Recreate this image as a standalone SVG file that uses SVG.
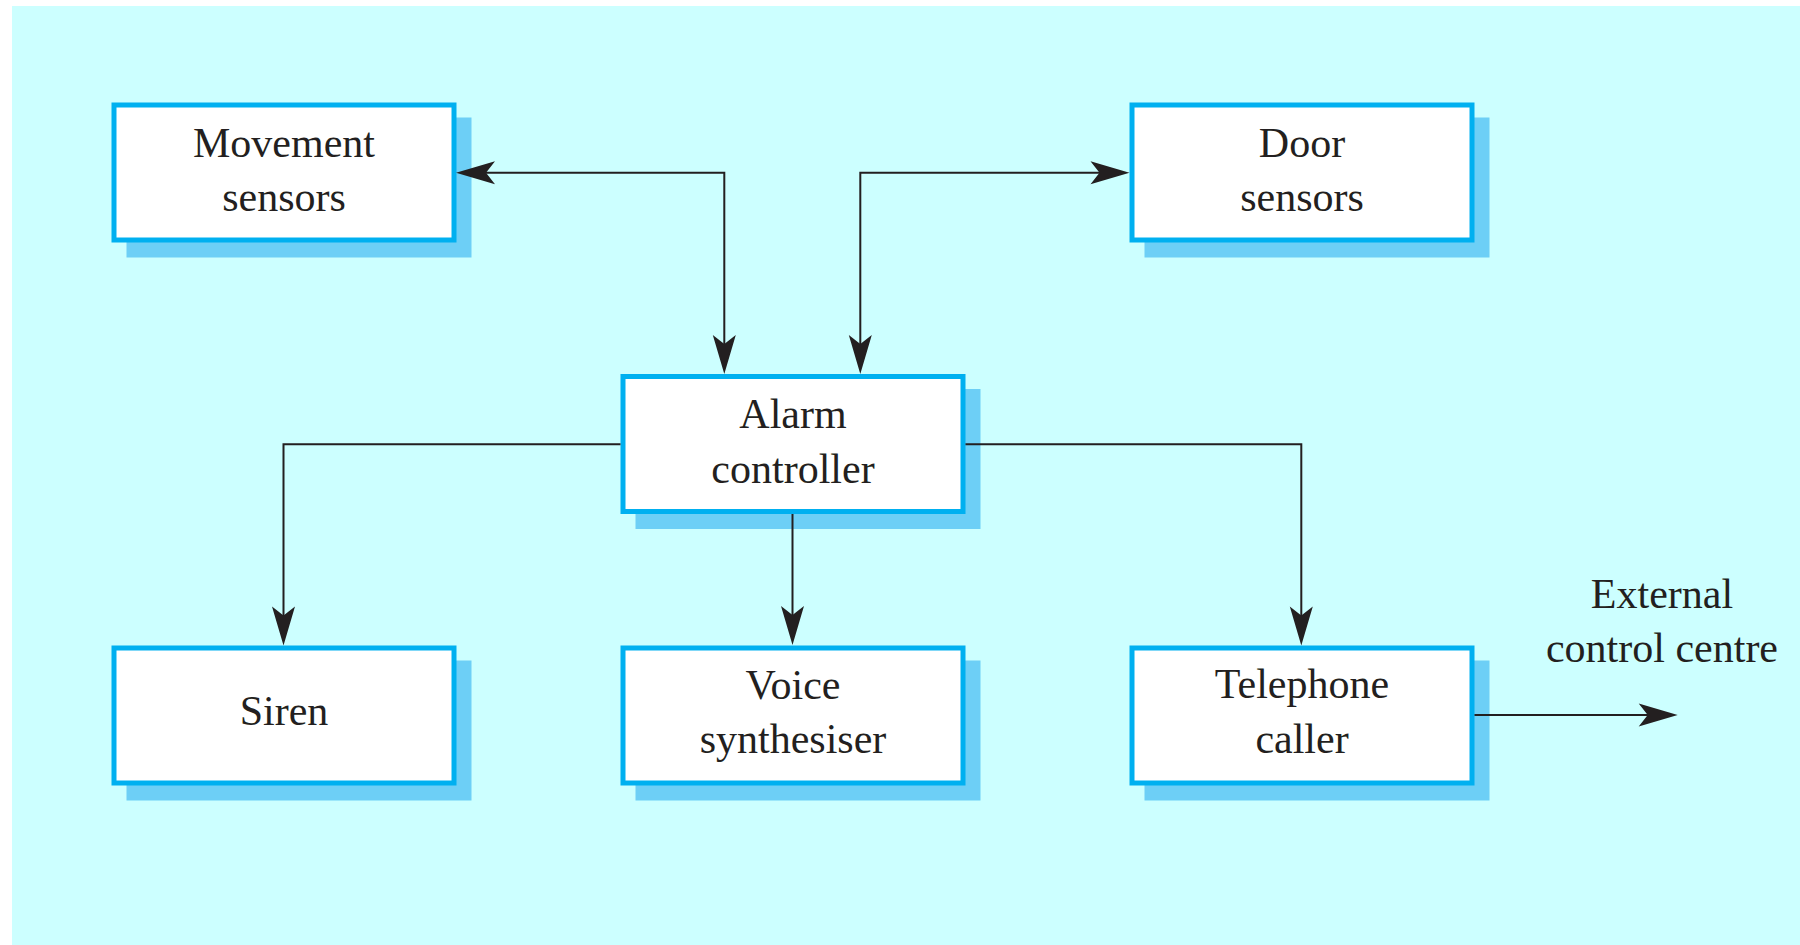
<svg xmlns="http://www.w3.org/2000/svg" width="1800" height="945" viewBox="0 0 1800 945">
<style>
.box{fill:#FFFFFF;stroke:#00B0F0;stroke-width:5}
.shadow{fill:#6DCFF6}
.lbl{font-family:"Liberation Serif","Times New Roman",serif;font-size:42px;fill:#231F20;text-anchor:middle}
.conn{fill:none;stroke:#231F20;stroke-width:2}
</style>
<defs>
<marker id="ah" viewBox="-40 -12 41 24" refX="-20" refY="0" markerWidth="41" markerHeight="24" markerUnits="userSpaceOnUse" orient="auto-start-reverse">
<path d="M0,0 L-39,-11.5 L-30,0 L-39,11.5 Z" fill="#231F20"/>
</marker>
</defs>
<rect x="12" y="6" width="1788" height="939" fill="#CCFFFF"/>
<g id="movement-sensors">
<rect class="shadow" x="126.5" y="117.5" width="345" height="140"/>
<rect class="box" x="114" y="105" width="340" height="135"/>
<text class="lbl" x="284" y="157.3">Movement</text>
<text class="lbl" x="284" y="211">sensors</text>
</g>
<g id="door-sensors">
<rect class="shadow" x="1144.5" y="117.5" width="345" height="140"/>
<rect class="box" x="1132" y="105" width="340" height="135"/>
<text class="lbl" x="1302" y="157.3">Door</text>
<text class="lbl" x="1302" y="211">sensors</text>
</g>
<g id="alarm-controller">
<rect class="shadow" x="635.5" y="389" width="345" height="140"/>
<rect class="box" x="623" y="376.5" width="340" height="135"/>
<text class="lbl" x="793" y="428.3">Alarm</text>
<text class="lbl" x="793" y="482.7">controller</text>
</g>
<g id="siren">
<rect class="shadow" x="126.5" y="660.5" width="345" height="140"/>
<rect class="box" x="114" y="648" width="340" height="135"/>
<text class="lbl" x="284" y="725">Siren</text>
</g>
<g id="voice-synthesiser">
<rect class="shadow" x="635.5" y="660.5" width="345" height="140"/>
<rect class="box" x="623" y="648" width="340" height="135"/>
<text class="lbl" x="793" y="699">Voice</text>
<text class="lbl" x="793" y="753.3">synthesiser</text>
</g>
<g id="telephone-caller">
<rect class="shadow" x="1144.5" y="660.5" width="345" height="140"/>
<rect class="box" x="1132" y="648" width="340" height="135"/>
<text class="lbl" x="1302" y="698.3">Telephone</text>
<text class="lbl" x="1302" y="753.3">caller</text>
</g>
<g id="external-control-centre">
<text class="lbl" x="1662" y="607.7">External</text>
<text class="lbl" x="1662" y="661.7">control centre</text>
</g>
<g id="connectors">
<path class="conn" d="M476,172.7 H724.3 V354" marker-start="url(#ah)" marker-end="url(#ah)"/>
<path class="conn" d="M860.3,354 V172.7 H1109.5" marker-start="url(#ah)" marker-end="url(#ah)"/>
<path class="conn" d="M620.5,444.3 H283.5 V625.5" marker-end="url(#ah)"/>
<path class="conn" d="M792.5,514 V625" marker-end="url(#ah)"/>
<path class="conn" d="M965.5,444.3 H1301.3 V625.5" marker-end="url(#ah)"/>
<path class="conn" d="M1474.5,715 H1657.7" marker-end="url(#ah)"/>
</g>
</svg>
